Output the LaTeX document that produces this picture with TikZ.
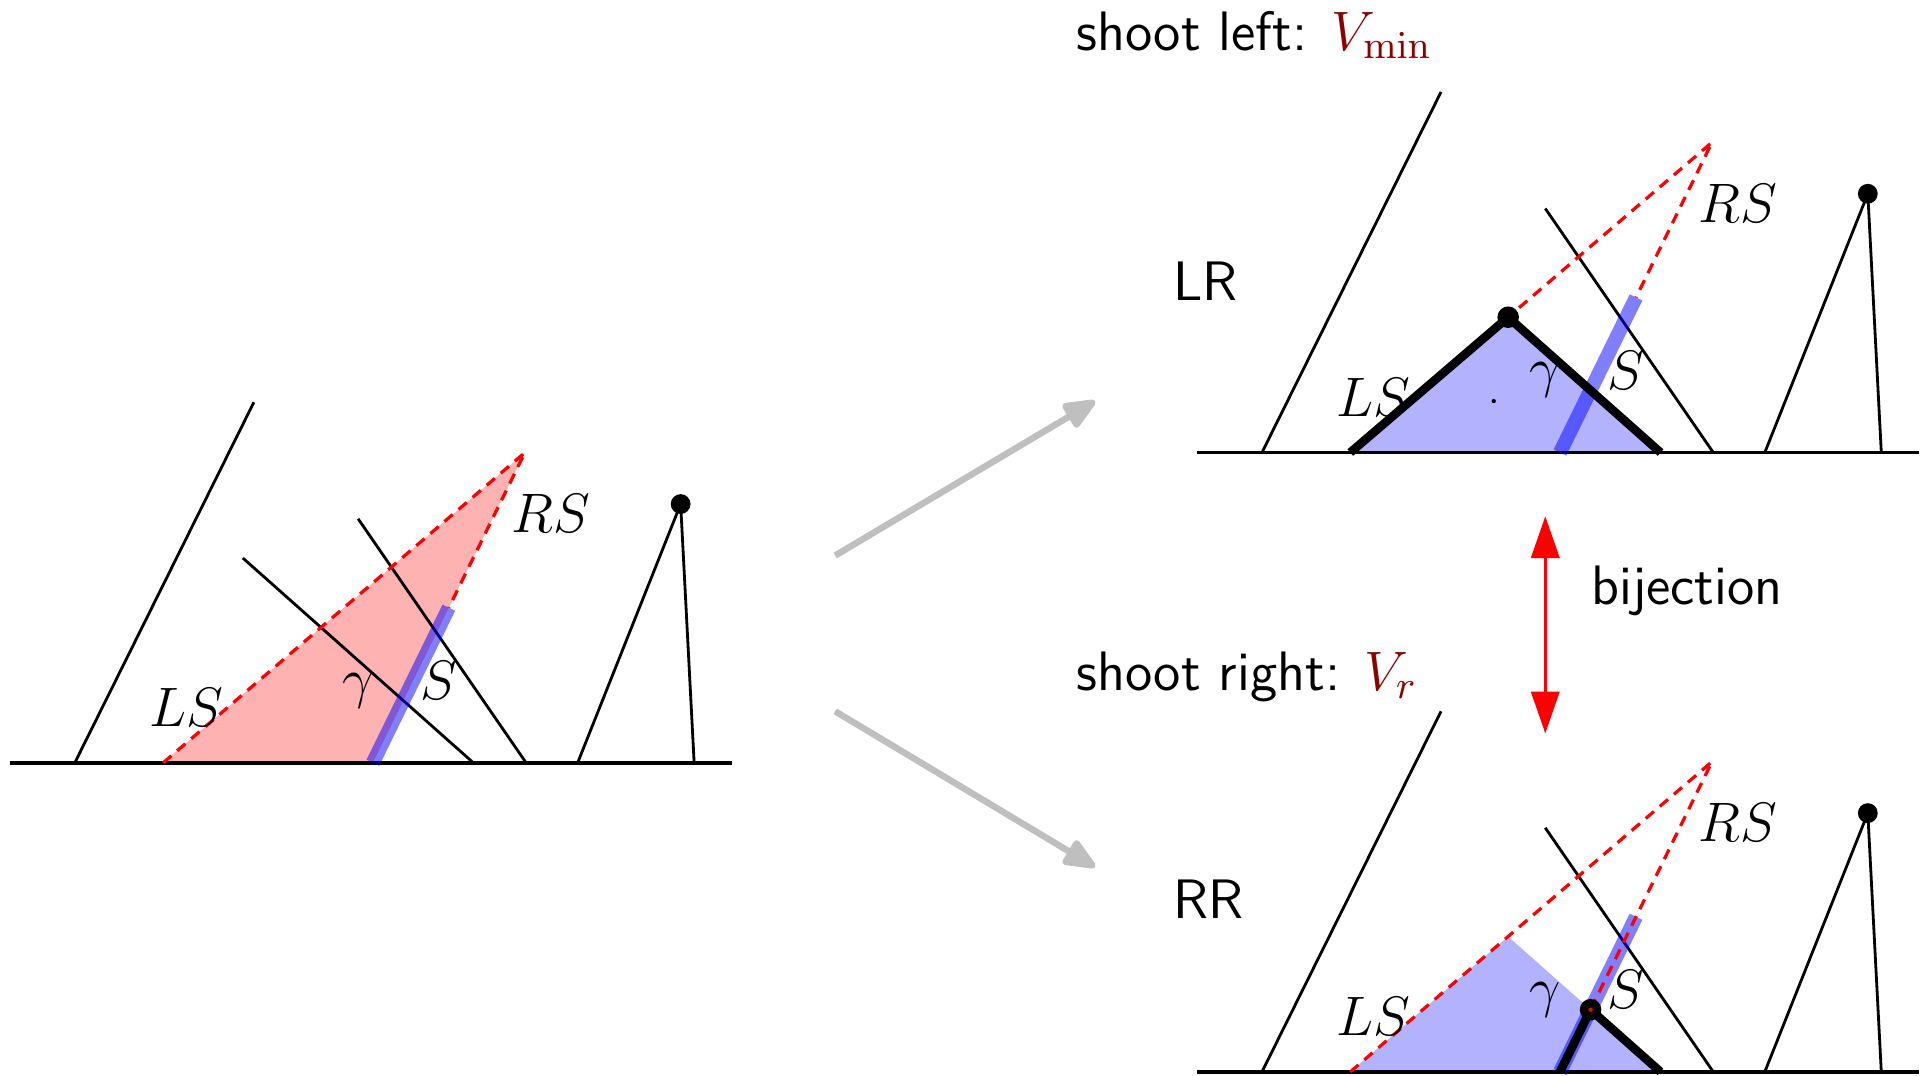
\documentclass[tikz,border=0pt]{standalone}
\usepackage{fix-cm}
\usetikzlibrary{arrows.meta,calc}
\definecolor{vred}{RGB}{140,0,0}
\definecolor{arrowgray}{RGB}{191,191,191}
\tikzset{
  thinline/.style={line width=0.65pt},
  groundline/.style={line width=0.85pt},
  rsline/.style={red, line width=0.75pt, dash pattern=on 2.5pt off 1.8pt},
  gammaseg/.style={blue, opacity=0.5, line width=1.15mm},
  boldline/.style={line width=2pt, line join=round},
  redfill/.style={fill=red!30},
  bluefill/.style={fill=blue!30},
  lbl/.style={inner sep=0pt, font=\fontsize{12.9}{15.5}\selectfont},
  txt/.style={inner sep=0pt, font=\fontsize{12.9}{15.5}\selectfont\sffamily},
  grayarrow/.style={arrowgray, line width=1.5pt, -{Triangle[length=3mm,width=2.4mm,round]}},
  bijarrow/.style={red, line width=0.65pt, {Triangle[length=3.4mm,width=2.3mm]}-{Triangle[length=3.4mm,width=2.3mm]}},
}
\newcommand{\mkpanel}[1]{%
  \coordinate (#1G1) at (8,622);
  \coordinate (#1G2) at (597,622);
  \coordinate (#1A1) at (61,622);
  \coordinate (#1A2) at (207,328);
  \coordinate (#1B1) at (198,455);
  \coordinate (#1B2) at (386,622);
  \coordinate (#1C1) at (292,423);
  \coordinate (#1C2) at (429,622);
  \coordinate (#1T1) at (471,622);
  \coordinate (#1T) at (555,411);
  \coordinate (#1T2) at (566,622);
  \coordinate (#1LS) at (133,622);
  \coordinate (#1AP) at (428,369);
  \coordinate (#1GA) at (304,622);
  \coordinate (#1GB) at ($(#1GA)!0.5!(#1AP)$);
  \coordinate (#1P) at (intersection of #1LS--#1AP and #1B1--#1B2);
  \coordinate (#1Q) at (intersection of #1B1--#1B2 and #1GA--#1AP);
}
\newcommand{\drawframe}[1]{%
  \draw[thinline] (#1A1) -- (#1A2);
  \draw[thinline] (#1C1) -- (#1C2);
  \draw[thinline] (#1T1) -- (#1T) -- (#1T2);
  \draw[groundline] (#1G1) -- (#1G2);
  \fill (#1T) circle[radius=2.3pt];
}
\newcommand{\panellabels}[1]{%
  \node[lbl] (#1nLS) at (152,577) {$LS$};
  \node[lbl] (#1nRS) at (449,419) {$RS$};
  \node[lbl] (#1ng) at (292,563) {$\gamma$};
  \node[lbl] (#1nS) at (358,555) {$S$};
}
\begin{document}
\begin{tikzpicture}[x=0.1mm,y=-0.1mm]
\useasboundingbox (0,0) rectangle (1568,877);

% ---------- left panel ----------
\begin{scope}
  \mkpanel{l}
  \fill[redfill] (lLS) -- (lAP) -- (lGA) -- cycle;
  \draw[thinline] (lB1) -- (lB2);
  \drawframe{l}
  \draw[gammaseg] (lGA) -- (lGB);
  \draw[rsline] (lLS) -- (lAP) -- (lGB);
  \panellabels{l}
\end{scope}

% ---------- top right panel (LR) ----------
\begin{scope}[shift={(968,-253)}]
  \mkpanel{t}
  \fill[bluefill] (tLS) -- (tP) -- (tB2) -- cycle;
  \drawframe{t}
  \draw[gammaseg] (tGA) -- (tGB);
  \draw[rsline] (tLS) -- (tAP) -- (tGB);
  \draw[boldline] (tLS) -- (tP) -- (tB2);
  \fill (tP) circle[radius=2.5pt];
  \fill (250,580) circle[radius=0.5pt];
  \panellabels{t}
\end{scope}

% ---------- bottom right panel (RR) ----------
\begin{scope}[shift={(968,252)}]
  \mkpanel{b}
  \fill[bluefill] (bLS) -- (bP) -- (bB2) -- cycle;
  \drawframe{b}
  \draw[gammaseg] (bGA) -- (bGB);
  \draw[rsline] (bLS) -- (bAP) -- (bQ);
  \draw[boldline] (bGA) -- (bQ) -- (bB2);
  \fill (bQ) circle[radius=2.5pt];
  \fill[red] (bQ) circle[radius=0.5pt];
  \panellabels{b}
\end{scope}

% ---------- arrows ----------
\coordinate (u1) at (681,453);
\coordinate (u2) at (893,327);
\coordinate (d1) at (681,580);
\coordinate (d2) at (893,707);
\draw[grayarrow] (u1) -- (u2);
\draw[grayarrow] (d1) -- (d2);
\coordinate (bt) at (1260,421);
\coordinate (bb) at (1260,598);
\draw[bijarrow] (bt) -- (bb);

% ---------- texts ----------
\node[txt, anchor=base west] (tl) at (877,41) {shoot left: \textcolor{vred}{$V_{\min}$}};
\node[txt, anchor=base west] (lr) at (956,245) {LR};
\node[txt, anchor=base west] (bij) at (1297,493) {bijection};
\node[txt, anchor=base west] (tr) at (877,563) {shoot right: \textcolor{vred}{$V_r$}};
\node[txt, anchor=base west] (rr) at (956,749) {RR};
\end{tikzpicture}
\end{document}
